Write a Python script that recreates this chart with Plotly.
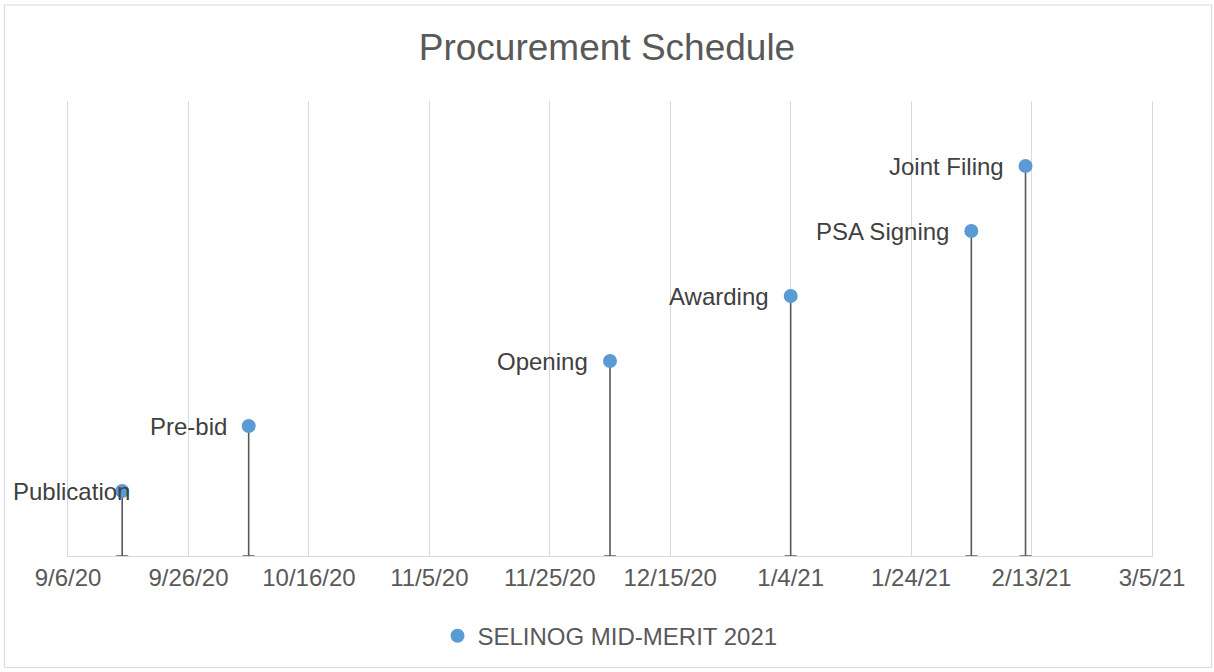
import plotly.graph_objects as go
from datetime import date, timedelta

milestones = ["Publication", "Pre-bid", "Opening", "Awarding", "PSA Signing", "Joint Filing"]
dates = ["2020-09-15", "2020-10-06", "2020-12-05", "2021-01-04", "2021-02-03", "2021-02-12"]
heights = [1, 2, 3, 4, 5, 6]
series_name = "SELINOG MID-MERIT 2021"

start = date(2020, 9, 6)
tick_vals = [(start + timedelta(days=20 * i)).isoformat() for i in range(10)]
tick_text = ["9/6/20", "9/26/20", "10/16/20", "11/5/20", "11/25/20", "12/15/20",
             "1/4/21", "1/24/21", "2/13/21", "3/5/21"]

FONT = "Liberation Sans, Arial, sans-serif"
label_shifts = [10, -20, -20, -20, -20, -20]

fig = go.Figure()
fig.add_trace(go.Scatter(
    x=dates, y=heights, mode="markers", name=series_name,
    marker=dict(size=14, color="#5b9bd5"),
    error_y=dict(type="data", symmetric=False, array=[0] * len(heights),
                 arrayminus=heights, color="#595959", thickness=1.6, width=6),
    showlegend=True,
))

annotations = []
for name, d, h, s in zip(milestones, dates, heights, label_shifts):
    annotations.append(dict(x=d, y=h, xref="x", yref="y", text=name, showarrow=False,
                            xanchor="right", yanchor="middle", xshift=s,
                            font=dict(family=FONT, size=24, color="#404040")))

fig.update_layout(
    width=1214, height=672,
    paper_bgcolor="white", plot_bgcolor="white",
    margin=dict(l=68, r=62, t=101, b=116),
    title=dict(text="Procurement Schedule", x=0.5, xanchor="center", y=0.93, yanchor="middle",
               font=dict(family=FONT, size=37, color="#595959")),
    font=dict(family=FONT, color="#595959"),
    xaxis=dict(type="date", range=[tick_vals[0], tick_vals[-1]],
               tickmode="array", tickvals=tick_vals, ticktext=tick_text,
               showgrid=True, gridcolor="#d9d9d9", gridwidth=1,
               showline=True, linecolor="#d9d9d9", linewidth=1,
               ticks="", ticklen=0, tickfont=dict(family=FONT, size=24, color="#595959"),
               zeroline=False),
    yaxis=dict(range=[0, 7], visible=True, showticklabels=False, ticks="",
               showgrid=False, zeroline=False,
               showline=True, linecolor="#d9d9d9", linewidth=1, mirror=True),
    legend=dict(orientation="h", x=0.5, xanchor="center", y=-0.176, yanchor="middle",
                font=dict(family=FONT, size=24, color="#595959"), itemwidth=30),
    annotations=annotations,
    shapes=[dict(type="rect", xref="paper", yref="paper", x0=-0.0586, x1=1.0549,
                 y0=-0.245, y1=1.211, line=dict(color="#d9d9d9", width=1))],
)

fig.write_html("out.html", config={"displayModeBar": False},
               post_script="document.body.style.margin='0';document.body.style.padding='0';document.body.style.overflow='hidden';")
